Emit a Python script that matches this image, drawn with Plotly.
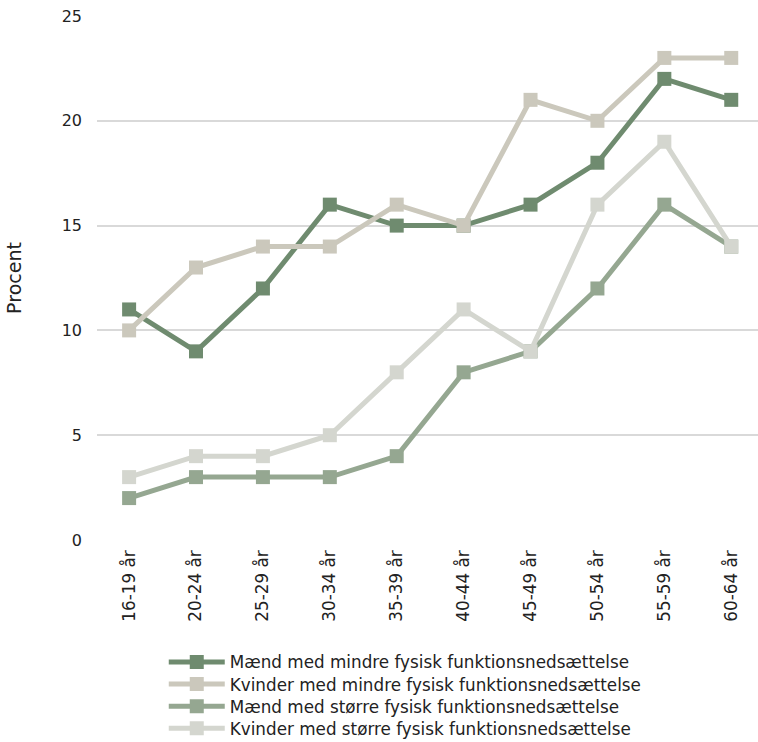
import plotly.graph_objects as go

categories = ["16-19 år", "20-24 år", "25-29 år", "30-34 år", "35-39 år",
              "40-44 år", "45-49 år", "50-54 år", "55-59 år", "60-64 år"]
maend_mindre = [11, 9, 12, 16, 15, 15, 16, 18, 22, 21]
kvinder_mindre = [10, 13, 14, 14, 16, 15, 21, 20, 23, 23]
maend_stoerre = [2, 3, 3, 3, 4, 8, 9, 12, 16, 14]
kvinder_stoerre = [3, 4, 4, 5, 8, 11, 9, 16, 19, 14]

series = [
    ("Mænd med mindre fysisk funktionsnedsættelse", maend_mindre, "#6f8b6f"),
    ("Kvinder med mindre fysisk funktionsnedsættelse", kvinder_mindre, "#cbc8bc"),
    ("Mænd med større fysisk funktionsnedsættelse", maend_stoerre, "#95a791"),
    ("Kvinder med større fysisk funktionsnedsættelse", kvinder_stoerre, "#d4d6cf"),
]

# one legend per series so the rows can sit as tightly as in the original
legend_ids = ["legend", "legend2", "legend3", "legend4"]

fig = go.Figure()
for (name, vals, color), lg in zip(series, legend_ids):
    fig.add_trace(go.Scatter(
        x=categories, y=vals, name=name, mode="lines+markers",
        line=dict(color=color, width=5),
        marker=dict(symbol="square", size=14, color=color),
        legend=lg, showlegend=True,
    ))

legend_style = dict(orientation="v", xanchor="left", yanchor="middle",
                    itemwidth=56, borderwidth=0, bgcolor="rgba(0,0,0,0)",
                    font=dict(size=16.8))
leg_x = 0.101
leg_y0, leg_step = -0.2328, 0.0422

fig.update_layout(
    width=758, height=742,
    showlegend=True,
    paper_bgcolor="white", plot_bgcolor="white",
    font=dict(family="DejaVu Sans, sans-serif", size=16, color="#222222"),
    margin=dict(l=97, r=0, t=16, b=202, autoexpand=False),
    xaxis=dict(range=[-0.48, 9.4], tickangle=-90, showgrid=False,
               showline=False, ticks="", automargin=False,
               tickfont=dict(size=16.8), ticklabelstandoff=6),
    yaxis=dict(range=[0, 25], dtick=5, gridcolor="#d9d9d9", gridwidth=1.5,
               zeroline=False, ticks="", ticklabelstandoff=14, automargin=False,
               title=dict(text="Procent", standoff=34)),
    legend=dict(x=leg_x, y=leg_y0, **legend_style),
    legend2=dict(x=leg_x, y=leg_y0 - leg_step, **legend_style),
    legend3=dict(x=leg_x, y=leg_y0 - 2 * leg_step, **legend_style),
    legend4=dict(x=leg_x, y=leg_y0 - 3 * leg_step, **legend_style),
)

# the page's default body margin would push the figure 8px down and right
fig.write_html("out.html", config={"displayModeBar": False},
               post_script="document.body.style.margin='0';")
